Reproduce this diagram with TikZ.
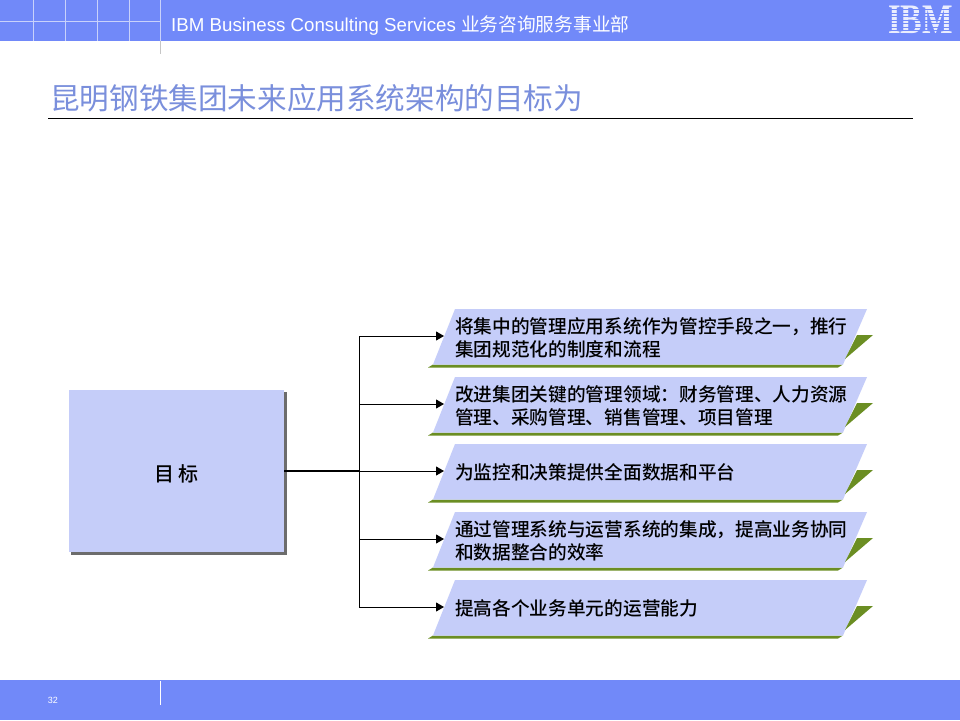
\documentclass[tikz,border=0pt]{standalone}
\usepackage{fontspec}
\setmainfont{Liberation Sans}
\newfontfamily\cjk{Noto Sans CJK SC}
\newfontfamily\cjkb{Noto Sans CJK SC Medium}
\newfontfamily\logofont{Liberation Serif Bold}
\usetikzlibrary{arrows.meta}
\definecolor{band}{HTML}{7189F9}
\definecolor{boxblue}{HTML}{C5CDF9}
\definecolor{leaf}{HTML}{6B8E23}
\definecolor{titleblue}{HTML}{7A8FDC}
\definecolor{gridline}{HTML}{C9D2FB}
\tikzset{
  barfill/.style={fill=boxblue,draw=none},
  barleaf/.style={fill=leaf,draw=none},
  bartext/.style={anchor=west,align=left,text=black,inner sep=0pt,font=\cjkb\fontsize{18.68}{23}\selectfont},
  goalbox/.style={fill=boxblue,draw=none,minimum width=215pt,minimum height=162pt,inner sep=0pt,font=\cjkb\fontsize{20}{24}\selectfont},
  feed/.style={draw=black,line width=1pt,-{Triangle[length=8pt,width=9pt]}},
  grid/.style={draw=gridline,line width=0.8pt}
}
\newcommand{\goalbar}[3]{%
  \fill[barleaf] (428,#2+58.5) -- (433,#2+55.5) -- (843,#2+55.5) -- (838,#2+58.5) -- cycle;
  \fill[barfill] (455,#2) -- (867,#2) -- (843,#2+55.5) -- (433,#2+55.5) -- cycle;
  \fill[barleaf] (873,#2+26) -- (857,#2+26) -- (845,#2+50) -- cycle;
  \coordinate (#1in) at (444,#2+27);
  \node[bartext] (#1) at (455,#2+28.5) {#3};
}
\begin{document}
\begin{tikzpicture}[x=1pt,y=-1pt]
\useasboundingbox (0,0) rectangle (960,720);
\fill[white] (0,0) rectangle (960,720);
% header and footer bands
\fill[band] (0,0) rectangle (960,41);
\fill[band] (0,680) rectangle (960,720);
\foreach \xx in {33,65,97,129} {\draw[grid] (\xx,0) -- (\xx,41);}
\draw[grid] (0,21) -- (160,21);
\draw[grid] (160,0) -- (160,41);
\draw[draw=gray!45,line width=0.8pt] (160,41) -- (160,54);
\draw[draw=white,line width=0.9pt] (160,681) -- (160,705);
\node[anchor=base west,inner sep=0pt,text=white,font=\fontsize{18.7}{22}\selectfont] (hdr) at (171,31) {IBM Business Consulting Services {\cjk\fontsize{18.7}{22}\selectfont 业务咨询服务事业部}};
\node[inner sep=0pt,text=white,font=\fontsize{9}{10}\selectfont] (pageno) at (53,700.5) {32};
% IBM logo
\node[inner sep=0pt,text=white!85!band,font=\logofont\fontsize{42}{42}\selectfont,xscale=0.77] (logo) at (920.5,20) {IBM};
\foreach \yy in {9,12.5,16,19.5,23,26.5,30} {\fill[band] (880,\yy) rectangle (960,\yy+1.4);}
% title
\node[anchor=base west,inner sep=0pt,text=titleblue,font=\cjk\fontsize{29.6}{32}\selectfont] (title) at (50,109) {昆明钢铁集团未来应用系统架构的目标为};
\draw[draw=black,line width=1pt] (48,118.5) -- (913,118.5);
% goal box
\fill[gray!85!black] (71,392) rectangle (287,555);
\node[goalbox] (goal) at (176.5,471) {\smash{\raisebox{-10pt}{目\,标}}};
% bars
\goalbar{a}{309}{将集中的管理应用系统作为管控手段之一，推行\\集团规范化的制度和流程}
\goalbar{b}{377}{改进集团关键的管理领域：财务管理、人力资源\\管理、采购管理、销售管理、项目管理}
\goalbar{c}{444}{为监控和决策提供全面数据和平台}
\goalbar{d}{512}{通过管理系统与运营系统的集成，提高业务协同\\和数据整合的效率}
\goalbar{e}{580}{提高各个业务单元的运营能力}
% connectors
\coordinate (hub) at (359,471);
\draw[draw=black,line width=2pt] (goal.east) -- (hub);
\draw[feed] (hub) |- (ain);
\draw[feed] (hub) |- (bin);
\draw[feed] (hub) -- (cin);
\draw[feed] (hub) |- (din);
\draw[feed] (hub) |- (ein);
\end{tikzpicture}
\end{document}
